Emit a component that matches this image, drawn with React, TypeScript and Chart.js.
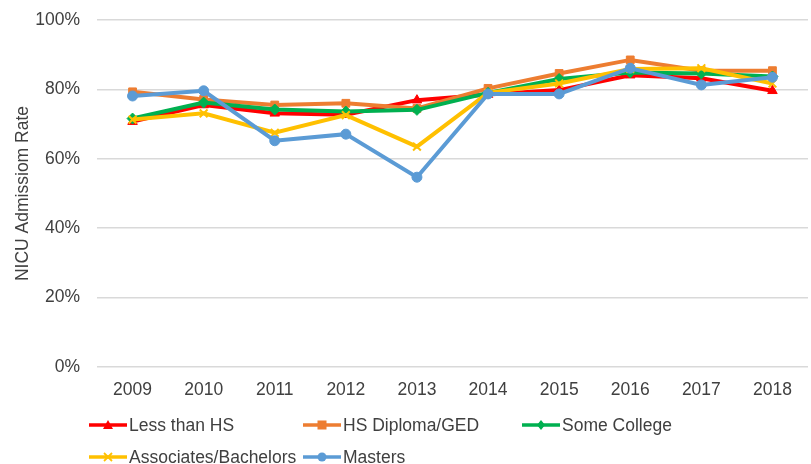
import React, { useEffect, useRef } from "react";
import { Chart, registerables } from "chart.js";

Chart.register(...registerables);

const years = ["2009", "2010", "2011", "2012", "2013", "2014", "2015", "2016", "2017", "2018"];
const lessThanHS = [70.7, 75.5, 73.1, 72.7, 76.9, 78.5, 79.8, 84.1, 83.2, 79.6];
const hsDiploma = [79.3, 77.1, 75.5, 76.0, 74.5, 80.3, 84.6, 88.5, 85.4, 85.4];
const someCollege = [71.6, 76.2, 74.2, 73.6, 74.1, 79.0, 83.0, 84.9, 84.6, 83.7];
const associatesBachelors = [71.3, 73.1, 67.5, 72.6, 63.5, 79.0, 81.7, 85.9, 86.1, 81.7];
const masters = [78.1, 79.6, 65.2, 67.1, 54.7, 78.7, 78.7, 86.1, 81.3, 83.5];
const yTicks = [0, 20, 40, 60, 80, 100];

const FONT = "'Liberation Sans', Arial, sans-serif";
const TEXT = "#404040";

const series = [
  { label: "Less than HS", data: lessThanHS, color: "#FF0000", style: "triangle", order: 4 },
  { label: "HS Diploma/GED", data: hsDiploma, color: "#ED7D31", style: "rect", order: 3 },
  { label: "Some College", data: someCollege, color: "#00B050", style: "rectRot", order: 2 },
  { label: "Associates/Bachelors", data: associatesBachelors, color: "#FFC000", style: "crossRot", order: 1 },
  { label: "Masters", data: masters, color: "#5B9BD5", style: "circle", order: 0 },
];

function Marker({ style, color }: { style: string; color: string }) {
  const cx = 19, cy = 7;
  if (style === "triangle") return <polygon points={`${cx},${cy - 5} ${cx + 5},${cy + 4} ${cx - 5},${cy + 4}`} fill={color} />;
  if (style === "rect") return <rect x={cx - 4.5} y={cy - 4.5} width={9} height={9} fill={color} />;
  if (style === "rectRot") return <polygon points={`${cx},${cy - 5} ${cx + 4},${cy} ${cx},${cy + 5} ${cx - 4},${cy}`} fill={color} />;
  if (style === "crossRot")
    return (
      <g stroke={color} strokeWidth={1.8}>
        <line x1={cx - 4} y1={cy - 4} x2={cx + 4} y2={cy + 4} />
        <line x1={cx - 4} y1={cy + 4} x2={cx + 4} y2={cy - 4} />
      </g>
    );
  return <circle cx={cx} cy={cy} r={4.5} fill={color} />;
}

export default function App() {
  const ref = useRef<HTMLCanvasElement | null>(null);
  useEffect(() => {
    if (!ref.current) return;
    const chart = new Chart(ref.current, {
      type: "line",
      data: {
        labels: years,
        datasets: series.map((s) => ({
          label: s.label,
          data: s.data,
          borderColor: s.color,
          backgroundColor: s.color,
          pointBackgroundColor: s.color,
          pointBorderColor: s.color,
          pointStyle: s.style as any,
          pointRadius: s.style === "circle" ? 5 : 5.5,
          pointBorderWidth: s.style === "crossRot" ? 2 : 1,
          borderWidth: 4,
          tension: 0,
          clip: false as any,
          order: s.order,
        })),
      },
      options: {
        animation: false,
        responsive: false,
        layout: { autoPadding: false, padding: { top: 20, right: 3, bottom: 64, left: 0 } },
        plugins: { legend: { display: false }, tooltip: { enabled: false } },
        scales: {
          x: {
            offset: true,
            grid: { display: false, drawTicks: false },
            border: { display: false },
            ticks: { color: TEXT, font: { family: FONT, size: 17.5 }, padding: 13, maxRotation: 0 },
            afterFit: (s: any) => { s.height = 33; s.paddingRight = 0; s.paddingLeft = 0; },
          },
          y: {
            min: 0,
            max: 100,
            afterBuildTicks: (s: any) => { s.ticks = yTicks.map((v) => ({ value: v })); },
            grid: { color: "#D9D9D9", lineWidth: 1.5, drawTicks: false },
            border: { display: false },
            ticks: { color: TEXT, font: { family: FONT, size: 17.5 }, padding: 17, callback: (v: any) => v + "%" },
            title: { display: true, text: "NICU Admissiom Rate", color: TEXT, font: { family: FONT, size: 17.5 }, padding: { top: 13, bottom: 0 } },
            afterFit: (s: any) => { s.width = 97; s.paddingTop = 0; s.paddingBottom = 0; },
          },
        },
      },
    });
    return () => chart.destroy();
  }, []);

  const cols = [89, 303, 522];
  const rows = [425, 457];
  return (
    <div style={{ position: "fixed", left: 0, top: 0, width: 811, height: 464, background: "#fff" }}>
      <canvas ref={ref} width={811} height={464} style={{ width: 811, height: 464, display: "block" }} />
      {series.map((s, i) => {
        const left = cols[i % 3];
        const top = rows[Math.floor(i / 3)];
        return (
          <div key={s.label} style={{ position: "absolute", left, top: top - 11, height: 22, display: "flex", alignItems: "center", fontFamily: FONT, fontSize: 17.5, color: TEXT, whiteSpace: "nowrap" }}>
            <svg width={38} height={14} style={{ marginRight: 2 }}>
              <line x1={0} y1={7} x2={38} y2={7} stroke={s.color} strokeWidth={3.5} />
              <Marker style={s.style} color={s.color} />
            </svg>
            <span>{s.label}</span>
          </div>
        );
      })}
    </div>
  );
}
